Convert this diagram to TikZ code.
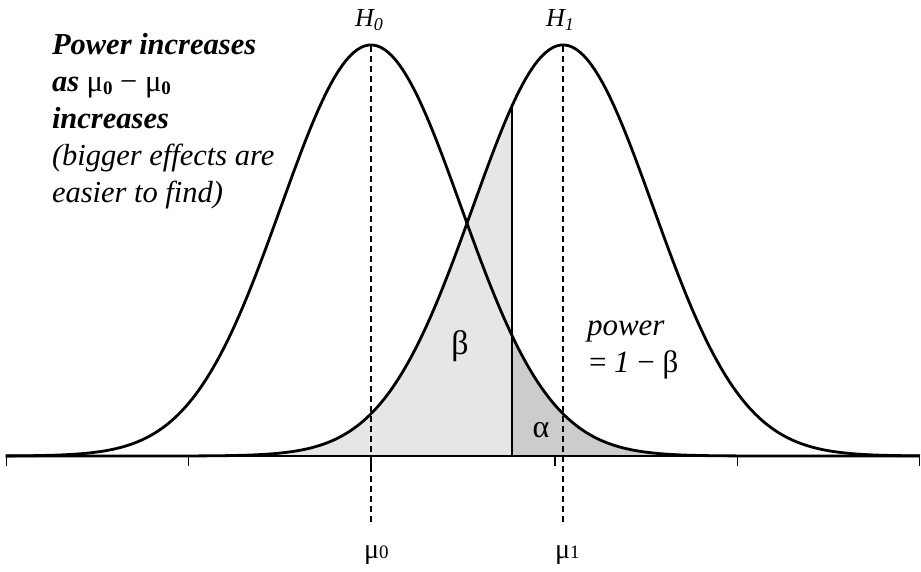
\documentclass[tikz,border=0pt]{standalone}
\usepackage{fontspec}
\setmainfont{Liberation Serif}
\definecolor{betafill}{HTML}{E6E6E6}
\definecolor{alphafill}{HTML}{CCCCCC}
\newcommand{\lowsub}[3]{\raisebox{-#1pt}{\fontsize{#2}{#2}\selectfont #3}}
\begin{document}
\begin{tikzpicture}[x=1pt,y=-1pt,
  curve/.style={line width=2.8pt,line join=round},
  axisline/.style={line width=2.6pt},
  tickline/.style={line width=1.3pt},
  meanline/.style={line width=1.2pt,dash pattern=on 6pt off 4pt},
  critline/.style={line width=1.3pt},
  lbl/.style={inner sep=0pt,outer sep=0pt}]
\useasboundingbox (0,0) rectangle (921,571);
% shaded regions
\fill[betafill] (6,456) -- plot[domain=-6.19:-0.5667,samples=120] ({563+90*\x},{456-411*exp(-0.5*\x*\x)}) -- (512,456) -- cycle;
\fill[alphafill] (512,456) -- plot[domain=1.5667:6.1,samples=120] ({371+90*\x},{456-411*exp(-0.5*\x*\x)}) -- (920,456) -- cycle;
% critical value line
\coordinate (cbot) at (512,456);
\coordinate (ctop) at (512,{456-411*exp(-0.5*0.5667*0.5667)});
\draw[critline] (cbot) -- (ctop);
% curves
\draw[curve] plot[domain=-4.06:6.1,samples=240] ({371+90*\x},{456-411*exp(-0.5*\x*\x)});
\draw[curve] plot[domain=-6.19:3.967,samples=240] ({563+90*\x},{456-411*exp(-0.5*\x*\x)});
% axis
\coordinate (axl) at (6,456);
\coordinate (axr) at (920,456);
\draw[axisline] (axl) -- (axr);
\foreach \t in {6.5,188.5,371,555,737.5,919.5}{
  \draw[tickline] (\t,456) -- (\t,466);
}
% mean lines
\coordinate (m0top) at (371,46);
\coordinate (m0bot) at (371,525);
\coordinate (m1top) at (563,46);
\coordinate (m1bot) at (563,525);
\draw[meanline] (m0top) -- (m0bot);
\draw[meanline] (m1top) -- (m1bot);
% labels
\node[lbl,anchor=base west] (h0) at (355,26) {\fontsize{26}{26}\selectfont\itshape H\lowsub{4}{18}{0}};
\node[lbl,anchor=base west] (h1) at (546,26) {\fontsize{26}{26}\selectfont\itshape H\lowsub{4}{18}{1}};
\node[lbl,anchor=base west] (mu0) at (364,558) {\fontsize{28}{28}\selectfont μ\lowsub{0}{19}{0}};
\node[lbl,anchor=base west] (mu1) at (555,558) {\fontsize{28}{28}\selectfont μ\lowsub{0}{19}{1}};
\node[lbl,anchor=base] (beta) at (460,354) {\fontsize{34}{34}\selectfont β};
\node[lbl,anchor=base] (alpha) at (541,437) {\fontsize{32}{32}\selectfont α};
\node[lbl,anchor=base west] (power) at (587,335) {\fontsize{31}{31}\selectfont\itshape power};
\node[lbl,anchor=base west] (powereq) at (589,372) {\fontsize{31}{31}\selectfont = \textit{1} − β};
\node[lbl,anchor=north west,align=left,font=\fontsize{30.5}{37}\selectfont] (note) at (52,33)
  {\textbf{\textit{Power increases}}\\
   \textbf{\textit{as}} μ\lowsub{3}{19}{\textbf{0}} − μ\lowsub{3}{19}{\textbf{0}}\\
   \textbf{\textit{increases}}\\
   \textit{(bigger effects are}\\
   \textit{easier to find)}};
\end{tikzpicture}
\end{document}
